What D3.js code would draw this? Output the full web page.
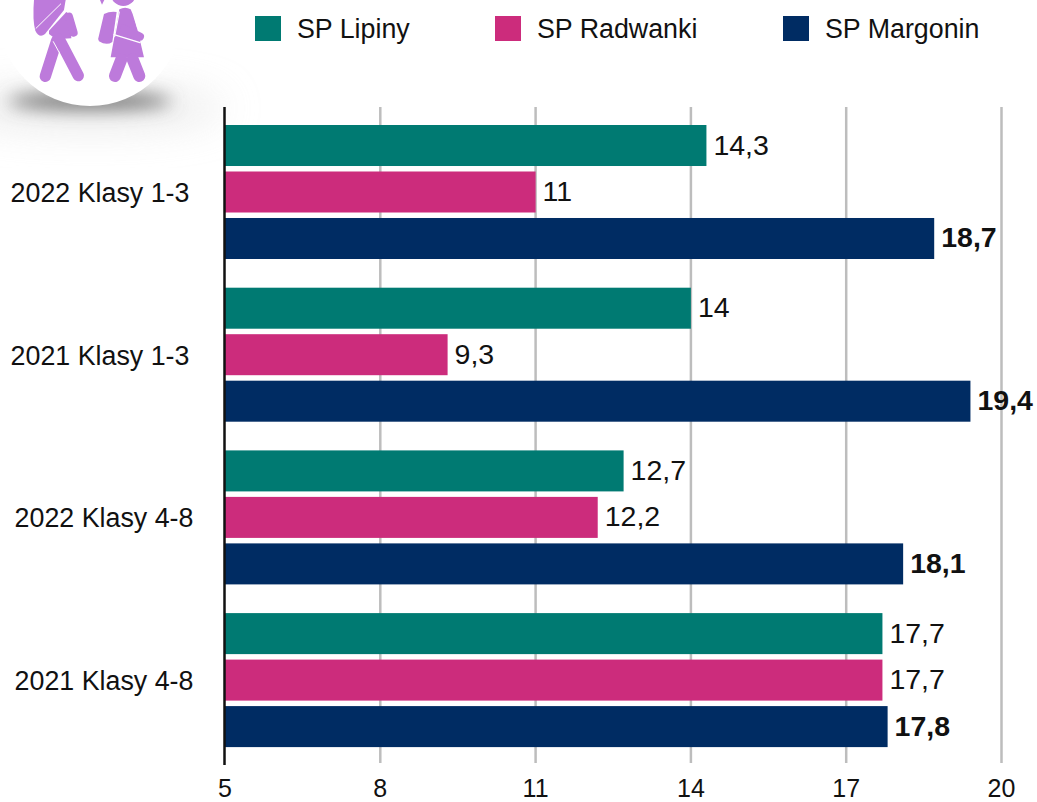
<!DOCTYPE html>
<html><head><meta charset="utf-8">
<script src="https://cdn.jsdelivr.net/npm/d3@7"></script>
<style>html,body{margin:0;padding:0;background:#fff}svg{display:block}text{font-family:"Liberation Sans",Arial,sans-serif;fill:#111}</style>
</head><body><svg id="c" width="1037" height="802"></svg>
<script>
const categories=["2022 Klasy 1-3","2021 Klasy 1-3","2022 Klasy 4-8","2021 Klasy 4-8"];
const seriesNames=["SP Lipiny","SP Radwanki","SP Margonin"];
const seriesColors=["#007a72","#cc2c7c","#002c63"];
const lipiny=[14.3,14,12.7,17.7];
const radwanki=[11,9.3,12.2,17.7];
const margonin=[18.7,19.4,18.1,17.8];
const tickValues=[5,8,11,14,17,20];
const allSeries=[lipiny,radwanki,margonin];

const svg=d3.select("#c");
const defs=svg.append("defs");
defs.append("filter").attr("id","b1").attr("x","-30%").attr("y","-150%").attr("width","160%").attr("height","400%")
 .append("feGaussianBlur").attr("stdDeviation",9);
defs.append("filter").attr("id","b2").attr("x","-30%").attr("y","-100%").attr("width","160%").attr("height","300%")
 .append("feGaussianBlur").attr("stdDeviation",20);

// icon
const icon=svg.append("g");
icon.append("ellipse").attr("cx",90).attr("cy",108).attr("rx",135).attr("ry",20).attr("fill","#d8d8d8").attr("opacity",.55).attr("filter","url(#b2)");
icon.append("ellipse").attr("cx",90).attr("cy",101).attr("rx",82).attr("ry",8).attr("fill","#6a6a6a").attr("filter","url(#b1)");
icon.append("circle").attr("cx",90).attr("cy",14).attr("r",92).attr("fill","#fff");
const purple="#bd7adb";
const art=icon.append("g").attr("transform","scale(0.3333)");
const sw=(d,w,c)=>art.append("path").attr("d",d).attr("fill","none").attr("stroke",c||purple).attr("stroke-width",w).attr("stroke-linecap","round").attr("stroke-linejoin","round");
const fill=(d)=>art.append("path").attr("d",d).attr("fill",purple);
// boy
fill("M102,0 L197,0 L192,30 L135,102 Q118,116 106,92 Q97,60 102,0Z");
sw("M108,85 L182,12",3,"#fff");
fill("M147,92 L199,36 L208,42 L214,115 L168,118 L147,102Z");
sw("M207,50 L221,98",24);
sw("M170,122 L136,229",34);
sw("M178,118 L235,227",34);
sw("M160,125 L178,158",3,"#fff");
// girl
art.append("circle").attr("cx",370).attr("cy",-20).attr("r",38).attr("fill",purple);
fill("M300,0 L313,0 L306,14Z");
fill("M312,42 Q330,33 350,36 L337,126 Q320,138 297,124 Q292,118 296,110Z");
fill("M358,28 Q376,18 392,28 L398,42 L412,88 L432,172 L332,172 L342,118Z");
sw("M402,42 L412,80",3,"#fff");
sw("M358,36 L344,110",3,"#fff");
sw("M342,104 L420,128",4,"#fff");
sw("M372,86 L420,110",24);
sw("M364,178 L345,228",36);
sw("M398,178 L418,228",36);

const x=d3.scaleLinear().domain([5,20]).range([225,1001.5]);
const y0=d3.scaleBand().domain(categories).range([125,125+162.7*4]);
const y1=d3.scaleBand().domain(seriesNames).range([0,134]).paddingInner(0.118);

// grid
svg.append("g").selectAll("line").data(tickValues.slice(1)).join("line")
 .attr("x1",d=>x(d)).attr("x2",d=>x(d)).attr("y1",107).attr("y2",763)
 .attr("stroke","#bdbdbd").attr("stroke-width",2.5);

// bars
const groups=svg.append("g").selectAll("g").data(categories).join("g")
 .attr("transform",d=>`translate(0,${y0(d)})`);
const fmt=v=>String(v).replace(".",",");
seriesNames.forEach((s,si)=>{
 groups.append("rect").attr("x",x(5)).attr("y",y1(s)).attr("height",y1.bandwidth())
  .attr("width",(d,i)=>x(allSeries[si][i])-x(5)).attr("fill",seriesColors[si]);
 groups.append("text").attr("x",(d,i)=>x(allSeries[si][i])+7).attr("y",y1(s)+y1.bandwidth()/2+9)
  .attr("font-size",28.5).attr("font-weight",si===2?"bold":"normal").text((d,i)=>fmt(allSeries[si][i]));
});

// y axis line
svg.append("line").attr("x1",x(5)-0.5).attr("x2",x(5)-0.5).attr("y1",107).attr("y2",765).attr("stroke","#111").attr("stroke-width",2.5);

// category labels
const labelX=[100,100,104,104];
svg.append("g").selectAll("text").data(categories).join("text")
 .attr("x",(d,i)=>labelX[i]).attr("y",d=>y0(d)+77).attr("text-anchor","middle").attr("font-size",26.8).text(d=>d);

// x tick labels
svg.append("g").selectAll("text").data(tickValues).join("text")
 .attr("x",d=>x(d)).attr("y",796.5).attr("text-anchor","middle").attr("font-size",25).text(d=>d);

// legend
const legendX=[255,495,783];
const leg=svg.append("g").selectAll("g").data(seriesNames).join("g");
leg.append("rect").attr("x",(d,i)=>legendX[i]).attr("y",16).attr("width",26).attr("height",25).attr("fill",(d,i)=>seriesColors[i]);
leg.append("text").attr("x",(d,i)=>legendX[i]+42).attr("y",38).attr("font-size",26.8).text(d=>d);
</script></body></html>
